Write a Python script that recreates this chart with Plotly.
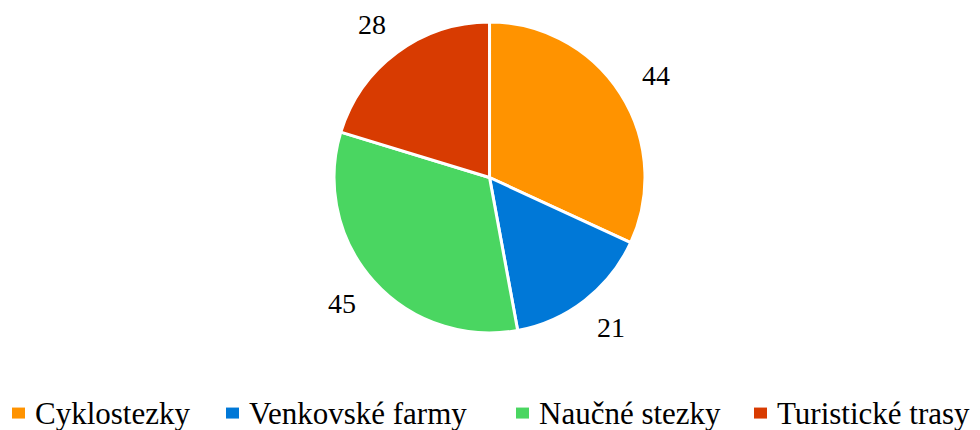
import math
import plotly.graph_objects as go

labels = ["Cyklostezky", "Venkovské farmy", "Naučné stezky", "Turistické trasy"]
values = [44, 21, 45, 28]
colors = ["#FF9300", "#0078D7", "#4AD661", "#D83B01"]

serif = "Liberation Serif"
W, H = 980, 430

# pie placement (paper fractions)
dom_x = [0.3327, 0.65]
dom_y = [0.2442, 0.9674]

fig = go.Figure(
    go.Pie(
        labels=labels,
        values=values,
        sort=False,
        direction="clockwise",
        rotation=0,
        marker=dict(colors=colors, line=dict(color="white", width=3)),
        textinfo="none",
        domain=dict(x=dom_x, y=dom_y),
        hoverinfo="label+value",
        showlegend=False,
    )
)

# value labels outside the slices, on each slice's mid angle
cx = (dom_x[0] + dom_x[1]) / 2 * W
cy = (1 - (dom_y[0] + dom_y[1]) / 2) * H
rx, ry = 198, 190
total = sum(values)
cum = 0
for v in values:
    mid = (cum + v / 2) / total * 2 * math.pi
    cum += v
    lx = cx + rx * math.sin(mid)
    ly = cy - ry * math.cos(mid)
    fig.add_annotation(
        x=lx / W, y=1 - ly / H, xref="paper", yref="paper",
        text=str(v), showarrow=False, xanchor="center", yanchor="middle",
        font=dict(family=serif, size=28),
    )

# legend drawn by hand (square + label)
leg_sq = [4, 218, 508, 746]
leg_y = 0.058
for lab, col, x0 in zip(labels, colors, leg_sq):
    fig.add_shape(
        type="rect", xref="paper", yref="paper",
        x0=x0 / W, x1=(x0 + 13) / W, y0=leg_y - 5.5 / H, y1=leg_y + 5.5 / H,
        fillcolor=col, line=dict(width=0),
    )
    fig.add_annotation(
        x=(x0 + 21) / W, y=leg_y, xref="paper", yref="paper",
        text=lab, showarrow=False, xanchor="left", yanchor="middle",
        font=dict(family=serif, size=31),
    )

fig.update_layout(
    width=W,
    height=H,
    margin=dict(l=0, r=0, t=0, b=0),
    paper_bgcolor="white",
    plot_bgcolor="white",
    font=dict(family=serif, size=28, color="black"),
)
fig.write_html("out.html")
